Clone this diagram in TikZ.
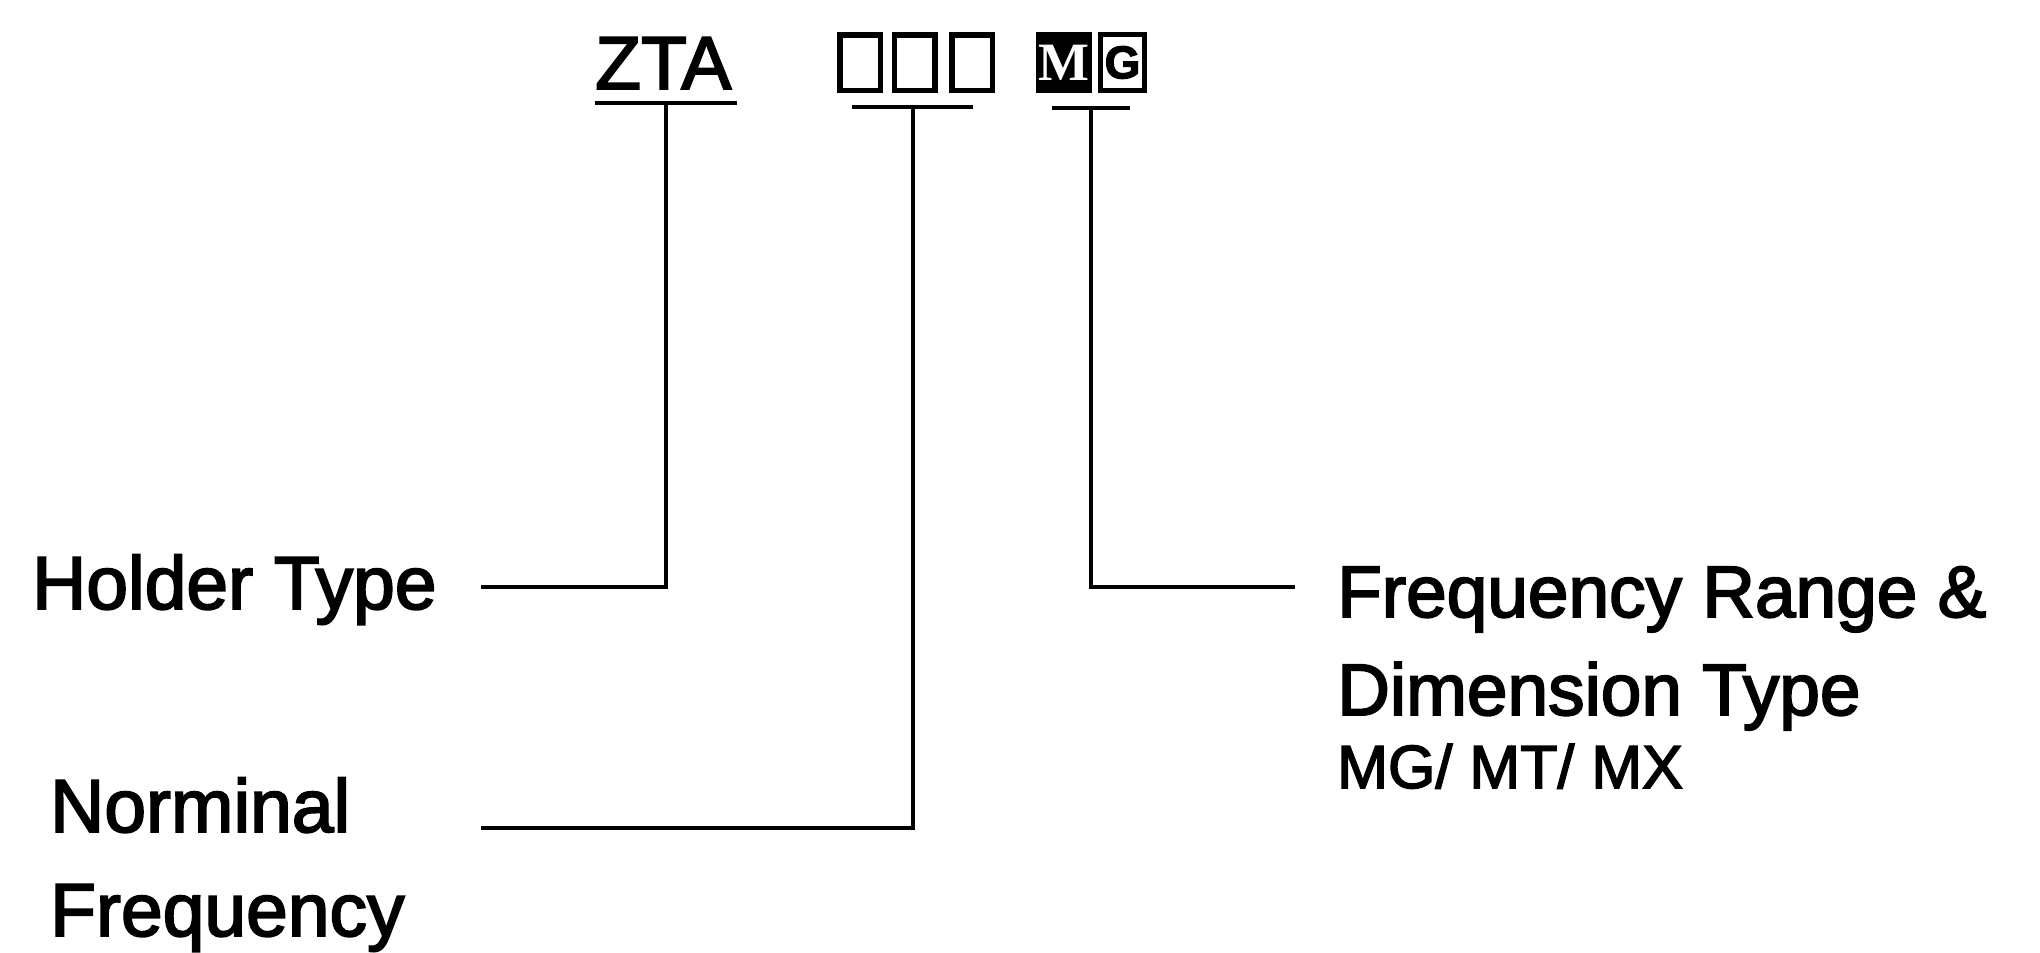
\documentclass[tikz,border=0pt]{standalone}
\usepackage{fontspec}
\setmainfont{Liberation Sans}[FakeBold=2.5]
\newfontfamily\boxserif{Liberation Serif}
\usetikzlibrary{positioning}

\begin{document}
\begin{tikzpicture}[
  x=1pt, y=-1pt,
  code/.style={
    inner sep=0pt, anchor=base west,
    font=\fontsize{75}{75}\selectfont
  },
  digit/.style={
    draw, line width=5.5pt, inner sep=0pt,
    minimum width=40.5pt, minimum height=55.5pt
  },
  mbox/.style={
    draw, line width=5pt, inner sep=0pt,
    minimum width=42pt, minimum height=56pt,
    font=\fontsize{54}{54}\selectfont\bfseries
  },
  bar/.style={fill=black, inner sep=0pt, minimum height=4.5pt},
  label/.style={
    inner sep=0pt, anchor=base west, align=left,
    font=\fontsize{75}{104}\selectfont
  },
  lead/.style={line width=4pt},
]
\useasboundingbox (0,0) rectangle (2040,953);

% Code
\node[code] (zta) at (595,89) {ZTA};
\node[digit] (d1) at (860,62.5) {};
\node[digit] (d2) at (914.5,62.5) {};
\node[digit] (d3) at (972,62.5) {};
\node[mbox, fill=black, text=white] (mm) at (1064,62.5) {\boxserif M};
\node[mbox, minimum width=44pt, font=\fontsize{46}{46}\selectfont\bfseries] (mg) at (1122.5,62.5) {G};

% Underlines
\node[bar, minimum width=121pt] (digitbar) at (912.5,107) {};
\node[bar, minimum width=142pt] (ztabar) at (666,103) {};
\node[bar, minimum width=78pt] (mgbar) at (1091,108) {};

% Labels
\node[label] (holder) at (32,609) {Holder Type};
\node[label] (nominal) at (50,936) {Norminal\\Frequency};
\node[label, font=\fontsize{73}{98}\selectfont] (range) at (1337,715)
  {Frequency Range \&\\Dimension Type};
\node[label, font=\fontsize{61}{61}\selectfont] (types) at (1337,788) {MG/ MT/ MX};

% Lead ends
\coordinate (holderend) at (481,587);
\coordinate (nominalend) at (481,828);
\coordinate (rangeend) at (1295,587);

% Leads
\draw[lead] (ztabar) |- (holderend);
\draw[lead] (digitbar) |- (nominalend);
\draw[lead] (mgbar) |- (rangeend);

\end{tikzpicture}
\end{document}
